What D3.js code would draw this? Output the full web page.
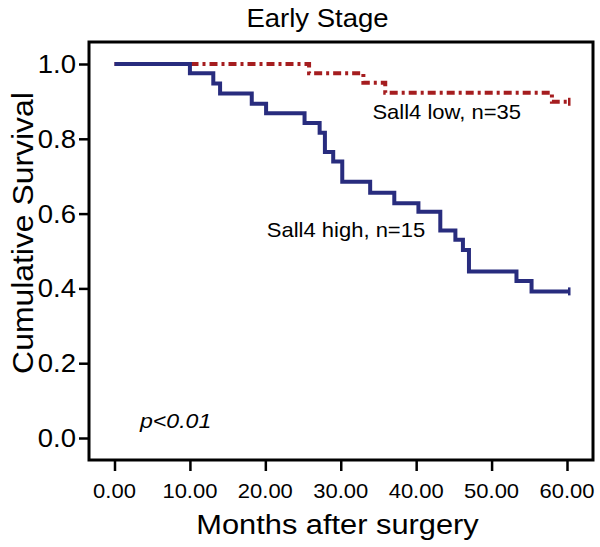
<!DOCTYPE html>
<html><head><meta charset="utf-8">
<script src="https://cdn.jsdelivr.net/npm/d3@7"></script>
<style>
html,body{margin:0;padding:0;background:#fff;}
text{font-family:"Liberation Sans",Arial,Helvetica,sans-serif;fill:#000;}
</style></head>
<body>
<svg id="chart" width="600" height="547"></svg>
<script>
// ---- data ----
const xTicks = [0, 10, 20, 30, 40, 50, 60];
const yTicks = [0, 0.2, 0.4, 0.6, 0.8, 1.0];
// Sall4 high (blue): step times and survival after each step
const highTimes = [0, 10.0, 13.1, 14.0, 18.2, 20.1, 25.2, 27.2, 27.9, 29.0, 30.2, 33.9, 37.1, 40.3, 43.2, 45.2, 46.2, 47.0, 53.3, 55.3, 60.3];
const highSurv  = [1.0, 0.975, 0.948, 0.921, 0.894, 0.868, 0.842, 0.816, 0.765, 0.739, 0.685, 0.656, 0.628, 0.605, 0.555, 0.530, 0.503, 0.445, 0.420, 0.392, 0.392];
// Sall4 low (red)
const lowTimes = [0, 25.8, 33.0, 35.9, 58.0, 60.3];
const lowSurv  = [1.0, 0.975, 0.950, 0.923, 0.899, 0.899];
const labels = {
  title: "Early Stage",
  xTitle: "Months after surgery",
  yTitle: "Cumulative Survival",
  high: "Sall4 high, n=15",
  low: "Sall4 low, n=35",
  p: "p<0.01"
};

const svg = d3.select("#chart");
const x = d3.scaleLinear().domain([0, 60]).range([114.5, 567]);
const y = d3.scaleLinear().domain([0, 1]).range([438, 64]);
const SX = 1.1;

function stext(px, py, str, size, anchor, extra) {
  const g = svg.append("g").attr("transform", `translate(${px},${py}) scale(${SX},1)`);
  const t = g.append("text").attr("font-size", size).attr("text-anchor", anchor).text(str);
  if (extra) extra(t);
  return t;
}

// frame
svg.append("rect").attr("x", 89).attr("y", 42).attr("width", 504).attr("height", 418)
  .attr("fill", "none").attr("stroke", "#000").attr("stroke-width", 3);

// axes
const yAxis = d3.axisLeft(y).tickValues(yTicks).tickSize(9).tickFormat(d3.format(".1f"));
const gy = svg.append("g").attr("transform", "translate(88,0)").call(yAxis);
gy.select(".domain").remove();
gy.selectAll(".tick line").attr("stroke", "#000").attr("stroke-width", 2.5);
gy.selectAll(".tick text").remove();
yTicks.forEach(v => stext(76, y(v) + 9, d3.format(".1f")(v), 25, "end"));

const xAxis = d3.axisBottom(x).tickValues(xTicks).tickSize(11);
const gx = svg.append("g").attr("transform", "translate(0,460)").call(xAxis);
gx.select(".domain").remove();
gx.selectAll(".tick line").attr("stroke", "#000").attr("stroke-width", 2.5);
gx.selectAll(".tick text").remove();
xTicks.forEach(v => stext(x(v), 498, d3.format(".2f")(v), 20, "middle"));

// titles
stext(317.5, 27, labels.title, 25, "middle");
stext(337.5, 533.5, labels.xTitle, 28, "middle");
svg.append("g").attr("transform", "translate(33,233) rotate(-90) scale(1.1,1)")
  .append("text").attr("font-size", 29).attr("text-anchor", "middle").text(labels.yTitle);

// curves
const line = d3.line().x(d => x(d[0])).y(d => y(d[1])).curve(d3.curveStepAfter);
const highData = d3.zip(highTimes, highSurv);
const lowData = d3.zip(lowTimes, lowSurv);

svg.append("path").datum(lowData).attr("d", line).attr("fill", "none")
  .attr("stroke", "#a51d1f").attr("stroke-width", 4).attr("stroke-dasharray", "8,4,3,4");
svg.append("path").datum(highData).attr("d", line).attr("fill", "none")
  .attr("stroke", "#282c7e").attr("stroke-width", 4);

// censor marks
const lastHigh = highData[highData.length - 1];
const lastLow = lowData[lowData.length - 1];
svg.append("line").attr("x1", x(lastHigh[0])).attr("x2", x(lastHigh[0]))
  .attr("y1", y(lastHigh[1]) - 4).attr("y2", y(lastHigh[1]) + 4).attr("stroke", "#282c7e").attr("stroke-width", 2.5);
svg.append("line").attr("x1", x(lastLow[0])).attr("x2", x(lastLow[0]))
  .attr("y1", y(lastLow[1]) - 4).attr("y2", y(lastLow[1]) + 4).attr("stroke", "#a51d1f").attr("stroke-width", 2.5);

// annotations
stext(446.7, 119, labels.low, 20, "middle");
stext(346, 237, labels.high, 20, "middle");
stext(140, 428, labels.p, 21, "start", t => t.attr("font-style", "italic"));
</script>
</body></html>
